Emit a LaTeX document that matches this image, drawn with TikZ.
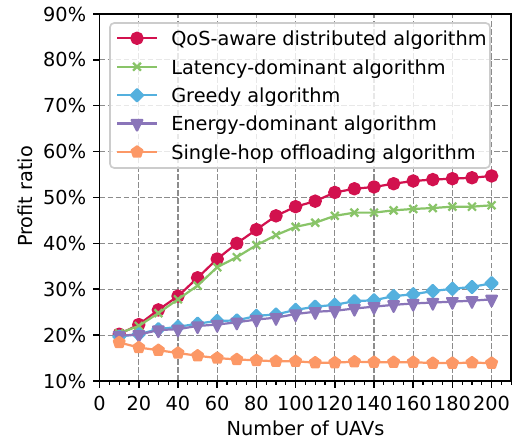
\documentclass[tikz,border=0pt]{standalone}
\usepackage{fontspec}
\setmainfont{DejaVu Sans}
\usetikzlibrary{plotmarks}

\definecolor{cqos}{RGB}{210,17,78}
\definecolor{clat}{RGB}{137,196,104}
\definecolor{cgre}{RGB}{84,176,222}
\definecolor{cene}{RGB}{138,117,185}
\definecolor{csin}{RGB}{252,152,102}

\begin{document}
\begin{tikzpicture}[x=0.72pt, y=0.72pt,
  font=\fontsize{13.9}{16}\selectfont,
  series/.style={line width=1.6pt, line join=round},
  qos/.style={series, color=cqos, mark=*, mark size=4.06pt},
  lat/.style={series, color=clat, mark=x, mark size=4pt},
  gre/.style={series, color=cgre, mark=diamond*, mark size=4.4pt, mark options={xscale=1.333}},
  ene/.style={series, color=cene, mark=triangle*, mark size=4.4pt, mark options={rotate=180, yscale=1.15}},
  sin/.style={series, color=csin, mark=pentagon*, mark size=4.06pt},
  gridline/.style={black!45, line width=0.8pt, dash pattern=on 4pt off 1.8pt},
  spine/.style={black, line width=1.08pt},
  majortick/.style={black, line width=1.08pt},
  minortick/.style={black, line width=0.8pt},
  ticklabel/.style={inner sep=0pt},
  legendframe/.style={draw=black!20, line width=1.2pt, fill=white, fill opacity=0.8, rounded corners=3pt}
]
\useasboundingbox (0,0) rectangle (513,441);

% data frame: x in UAVs, y in percent
\begin{scope}[shift={(71.71pt,10.17pt)}, x=1.4112pt, y=3.303pt]
  % grid
  \foreach \x in {20,40,...,200} \draw[gridline] (\x,10) -- (\x,90);
  \foreach \v in {20,30,...,80} \draw[gridline] (0,\v) -- (210,\v);

  % curves
  \draw[qos] plot coordinates {(10,20.2) (20,22.3) (30,25.5) (40,28.5) (50,32.5) (60,36.6) (70,40.0) (80,43.0) (90,46.0) (100,48.0) (110,49.2) (120,51.1) (130,51.9) (140,52.3) (150,53.0) (160,53.6) (170,53.9) (180,54.1) (190,54.3) (200,54.7)};
  \draw[lat] plot coordinates {(10,20.4) (20,22.0) (30,24.8) (40,27.8) (50,30.8) (60,34.8) (70,37.0) (80,39.6) (90,41.8) (100,43.6) (110,44.5) (120,46.0) (130,46.7) (140,46.7) (150,47.2) (160,47.5) (170,47.7) (180,48.0) (190,48.0) (200,48.3)};
  \draw[gre] plot coordinates {(10,19.7) (20,20.2) (30,21.3) (40,21.8) (50,22.5) (60,23.1) (70,23.2) (80,24.2) (90,24.5) (100,25.5) (110,26.2) (120,26.6) (130,27.4) (140,27.6) (150,28.5) (160,28.9) (170,29.6) (180,30.1) (190,30.5) (200,31.3)};
  \draw[ene] plot coordinates {(10,19.9) (20,20.1) (30,21.1) (40,21.3) (50,22.0) (60,22.3) (70,22.8) (80,23.4) (90,23.8) (100,24.6) (110,25.1) (120,25.3) (130,25.8) (140,26.2) (150,26.6) (160,26.9) (170,27.1) (180,27.3) (190,27.5) (200,27.8)};
  \draw[sin] plot coordinates {(10,18.4) (20,17.3) (30,16.7) (40,16.1) (50,15.5) (60,15.0) (70,14.7) (80,14.5) (90,14.3) (100,14.3) (110,14.0) (120,14.0) (130,14.2) (140,14.1) (150,14.1) (160,14.1) (170,13.9) (180,13.9) (190,14.0) (200,13.9)};

  % frame
  \draw[spine] (0,10) rectangle (210,90);

  % x ticks and labels
  \foreach \x in {5,10,...,210} \draw[minortick] (\x,10) -- ++(0,-2.75pt);
  \foreach \x in {0,20,...,200} {
    \draw[majortick] (\x,10) -- ++(0,-4.75pt);
    \node[ticklabel, anchor=north] (xl\x) at ([yshift=-10.8pt]\x,10) {\x};
  }
  % y ticks and labels
  \foreach \v in {10,20,...,90} {
    \draw[majortick] (0,\v) -- ++(-4.75pt,0);
    \node[ticklabel, anchor=east] (yl\v) at ([xshift=-9.5pt]0,\v) {\v\%};
  }
\end{scope}

% axis titles
\node[rotate=90] (ytitle) at (25,244.5) {Profit ratio};
\node[anchor=base] (xtitle) at (305.5,5) {Number of UAVs};

% legend
\path[legendframe] (110,418) rectangle (490,273);
\draw[qos] plot[mark indices={2}] coordinates {(117,402.7) (137,402.7) (157,402.7)};
\draw[lat] plot[mark indices={2}] coordinates {(117,374.3) (137,374.3) (157,374.3)};
\draw[gre] plot[mark indices={2}] coordinates {(117,345.7) (137,345.7) (157,345.7)};
\draw[ene] plot[mark indices={2}] coordinates {(117,317.5) (137,317.5) (157,317.5)};
\draw[sin] plot[mark indices={2}] coordinates {(117,289.0) (137,289.0) (157,289.0)};
\node[anchor=base west, inner sep=0pt] (lqos) at (171,395.3) {QoS-aware distributed algorithm};
\node[anchor=base west, inner sep=0pt] (llat) at (171,366.9) {Latency-dominant algorithm};
\node[anchor=base west, inner sep=0pt] (lgre) at (171,338.3) {Greedy algorithm};
\node[anchor=base west, inner sep=0pt] (lene) at (171,310.1) {Energy-dominant algorithm};
\node[anchor=base west, inner sep=0pt] (lsin) at (171,281.6) {Single-hop offloading algorithm};
\end{tikzpicture}
\end{document}
